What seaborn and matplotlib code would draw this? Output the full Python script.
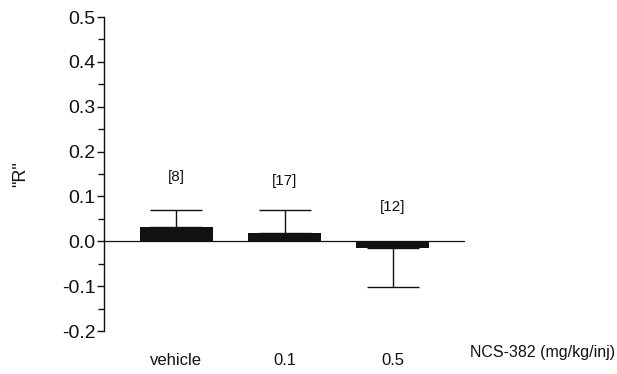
import matplotlib
matplotlib.use("Agg")
import matplotlib.pyplot as plt
import seaborn as sns
import pandas as pd
import numpy as np
from matplotlib.ticker import MultipleLocator

categories = ["vehicle", "0.1", "0.5"]
means = [0.031, 0.019, -0.015]
sem = [0.039, 0.050, 0.088]
n_labels = ["[8]", "[17]", "[12]"]
label_y = [0.143, 0.134, 0.076]

sns.set_theme(style="white")
plt.rcParams['font.family'] = ['Liberation Sans', 'DejaVu Sans']

fig = plt.figure(figsize=(6.17, 3.74), dpi=100)
ax = fig.add_axes([104/617, 43/374, (465-104)/617, (331-17)/374])

df = pd.DataFrame({"dose": categories, "R": means})
sns.barplot(data=df, x="dose", y="R", color="#111111", width=0.67,
            errorbar=None, ax=ax, saturation=1, linewidth=0)

x = np.arange(len(categories))
lower = [0 if m >= 0 else s for m, s in zip(means, sem)]
upper = [s if m >= 0 else 0 for m, s in zip(means, sem)]
ax.errorbar(x, means, yerr=[lower, upper], fmt="none", ecolor="#111111",
            elinewidth=1.0, capsize=19, capthick=1.0)

for xi, lab, ly in zip(x, n_labels, label_y):
    ax.text(xi, ly, lab, ha="center", va="center", fontsize=11, color="#111111")

ax.axhline(0, color="#111111", lw=0.9)
ax.set_xlim(-0.67, 2.67)
ax.set_ylim(-0.2, 0.5)
ax.yaxis.set_major_locator(MultipleLocator(0.1))
ax.yaxis.set_minor_locator(MultipleLocator(0.05))
ax.set_yticks(np.arange(-0.2, 0.51, 0.1))
ax.set_yticklabels([f"{v:.1f}" for v in np.arange(-0.2, 0.51, 0.1)], fontsize=14)
ax.tick_params(axis="y", which="major", left=True, length=5, width=1, color="#111111",
               pad=1, labelcolor="#111111")
ax.tick_params(axis="y", which="minor", left=True, length=4, width=1, color="#111111")
ax.tick_params(axis="x", bottom=False, length=0, pad=16, labelsize=12, labelcolor="#111111")
for s in ["top", "right", "bottom"]:
    ax.spines[s].set_visible(False)
ax.spines["left"].set_color("#111111")
ax.spines["left"].set_linewidth(1.0)
ax.set_xlabel("")
ax.set_ylabel('"R"', fontsize=13, color="#111111", labelpad=24)
ax.grid(False)

fig.text(470/617, 1 - 353/374, "NCS-382 (mg/kg/inj)", fontsize=11.5,
         ha="left", va="center", color="#111111")

fig.savefig("out.png", dpi=100)
